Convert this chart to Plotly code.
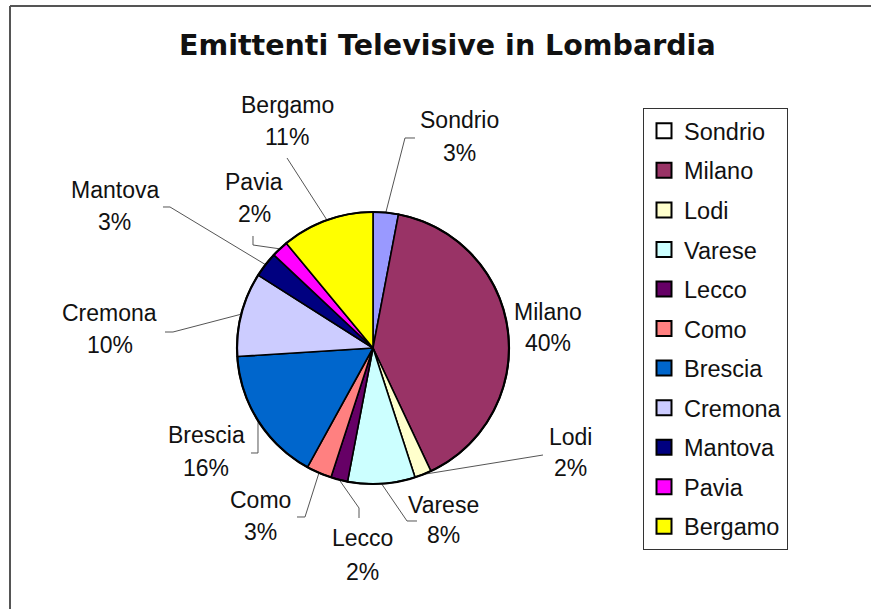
import math
import plotly.graph_objects as go

# ---- data -------------------------------------------------------------
cities = ["Sondrio", "Milano", "Lodi", "Varese", "Lecco", "Como",
          "Brescia", "Cremona", "Mantova", "Pavia", "Bergamo"]
shares = [3, 40, 2, 8, 2, 3, 16, 10, 3, 2, 11]

slice_colors = ["#9999FF", "#993366", "#FFFFCC", "#CCFFFF", "#660066", "#FF8080",
                "#0066CC", "#CCCCFF", "#000080", "#FF00FF", "#FFFF00"]
legend_colors = ["#FFFFFF", "#993366", "#FFFFCC", "#CCFFFF", "#660066", "#FF8080",
                 "#0066CC", "#CCCCFF", "#000080", "#FF00FF", "#FFFF00"]

title_text = "Emittenti Televisive in Lombardia"

# ---- layout geometry (pixels) ----------------------------------------
W, H = 871, 609
PIE_LEFT, PIE_RIGHT, PIE_TOP, PIE_BOTTOM = 237, 509, 212, 484

# label placement: name centre x, name centre y, percent centre y
label_pos = {
    "Sondrio": (460, 120, 153),
    "Milano": (548, 312, 343),
    "Lodi": (570, 437, 468),
    "Varese": (443, 505, 535),
    "Lecco": (362, 538, 572),
    "Como": (260, 500, 532),
    "Brescia": (206, 435, 468),
    "Cremona": (110, 313, 345),
    "Mantova": (115, 190, 222),
    "Pavia": (254, 182, 214),
    "Bergamo": (287, 105, 137),
}
# leader line bends, from the label towards the slice
leader_bends = {
    "Sondrio": [(415, 138), (405, 138)],
    "Milano": None,
    "Lodi": [(543, 455)],
    "Varese": [(417, 521), (407, 521)],
    "Lecco": [(359, 518), (359, 508)],
    "Como": [(297, 517), (305, 517)],
    "Brescia": [(251, 453), (258, 453), (258, 425)],
    "Cremona": [(165, 332), (173, 332)],
    "Mantova": [(163, 207), (170, 207)],
    "Pavia": [(253, 236), (253, 245)],
    "Bergamo": [(287, 158)],
}

LABEL_FONT = dict(family="Liberation Sans, Arial, sans-serif", size=23, color="#111111")


def px(x):
    return x / W


def py(y):
    return 1 - y / H


fig = go.Figure()

fig.add_trace(go.Pie(
    labels=cities,
    values=shares,
    sort=False,
    direction="clockwise",
    rotation=0,
    textinfo="none",
    hoverinfo="label+percent",
    showlegend=False,
    marker=dict(colors=slice_colors, line=dict(color="#000000", width=1.6)),
    domain=dict(x=[px(PIE_LEFT), px(PIE_RIGHT)], y=[py(PIE_BOTTOM), py(PIE_TOP)]),
))

# legend entries with square swatches
for city, col in zip(cities, legend_colors):
    fig.add_trace(go.Scatter(
        x=[None], y=[None], mode="markers", name=city, legendgroup=city,
        marker=dict(symbol="square", size=15, color=col,
                    line=dict(color="#000000", width=2)),
    ))

# ---- labels and leader lines -----------------------------------------
cx = (PIE_LEFT + PIE_RIGHT) / 2
cy = (PIE_TOP + PIE_BOTTOM) / 2
r = (PIE_RIGHT - PIE_LEFT) / 2
total = sum(shares)

annotations = []
shapes = []
cum = 0.0
for city, val in zip(cities, shares):
    frac_mid = (cum + val / 2) / total
    cum += val
    ang = 2 * math.pi * frac_mid          # clockwise from 12 o'clock
    ex = cx + r * math.sin(ang)
    ey = cy - r * math.cos(ang)

    lx, ly_name, ly_pct = label_pos[city]
    pct = round(100 * val / total)
    annotations.append(dict(x=px(lx), y=py(ly_name), xref="paper", yref="paper",
                            text=city, showarrow=False, font=LABEL_FONT,
                            xanchor="center", yanchor="middle"))
    annotations.append(dict(x=px(lx), y=py(ly_pct), xref="paper", yref="paper",
                            text=f"{pct}%", showarrow=False, font=LABEL_FONT,
                            xanchor="center", yanchor="middle"))

    bends = leader_bends[city]
    if bends:
        pts = bends + [(ex, ey)]
        path = "M " + " L ".join(f"{px(x):.5f},{py(y):.5f}" for x, y in pts)
        shapes.append(dict(type="path", path=path, xref="paper", yref="paper",
                           line=dict(color="#555555", width=1)))

# heavier outline around the pie
shapes.append(dict(type="circle", xref="paper", yref="paper",
                   x0=px(PIE_LEFT), x1=px(PIE_RIGHT), y0=py(PIE_BOTTOM), y1=py(PIE_TOP),
                   line=dict(color="#000000", width=2.2)))

# chart-area frame (top and left edges)
shapes.append(dict(type="line", xref="paper", yref="paper",
                   x0=px(10), y0=py(6), x1=1, y1=py(6),
                   line=dict(color="#555555", width=2)))
shapes.append(dict(type="line", xref="paper", yref="paper",
                   x0=px(10), y0=py(6), x1=px(10), y1=0,
                   line=dict(color="#555555", width=2)))

# title
annotations.append(dict(x=px(447), y=py(45), xref="paper", yref="paper",
                        text=f"<b>{title_text}</b>", showarrow=False,
                        font=dict(family="DejaVu Sans, Verdana, sans-serif", size=28.5,
                                  color="#111111"),
                        xanchor="center", yanchor="middle"))

fig.update_layout(
    width=W, height=H,
    margin=dict(l=0, r=0, t=0, b=0),
    paper_bgcolor="#FFFFFF",
    plot_bgcolor="#FFFFFF",
    xaxis=dict(visible=False),
    yaxis=dict(visible=False),
    annotations=annotations,
    shapes=shapes,
    showlegend=True,
    legend=dict(
        x=px(643), y=py(108), xanchor="left", yanchor="top",
        bordercolor="#333333", borderwidth=1, bgcolor="#FFFFFF",
        font=dict(family="Liberation Sans, Arial, sans-serif", size=23.5, color="#111111"),
        traceorder="grouped", tracegroupgap=6,
        itemclick=False, itemdoubleclick=False,
    ),
)

fig.write_html("out.html")
